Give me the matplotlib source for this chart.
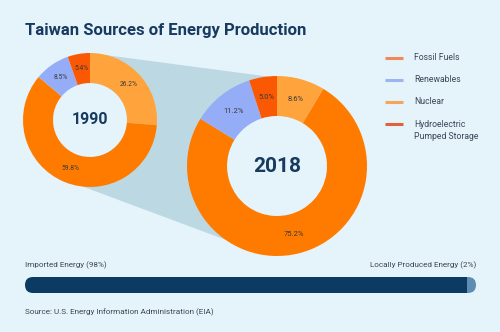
import numpy as np
import matplotlib
matplotlib.use("Agg")
import matplotlib.pyplot as plt
from matplotlib.patches import Polygon, Circle, FancyBboxPatch

# Energy mix (%), order: clockwise from 12 o'clock
sources = ["Nuclear", "Fossil Fuels", "Renewables", "Hydroelectric\nPumped Storage"]
mix_1990 = [26.2, 59.8, 8.5, 5.4]
mix_2018 = [8.6, 75.2, 11.2, 5.0]
years = ["1990", "2018"]

legend_order = ["Fossil Fuels", "Renewables", "Nuclear", "Hydroelectric\nPumped Storage"]

# import vs local share
share_labels = ["Imported Energy", "Locally Produced Energy"]
share_values = [98, 2]

bg = "#e5f3fb"
navy = "#173a5e"
txt = "#3b4756"
wedge_colors = {"Nuclear": "#ffa43c", "Fossil Fuels": "#ff7b00",
                "Renewables": "#94adf6", "Hydroelectric\nPumped Storage": "#fb5804"}
legend_colors = {"Fossil Fuels": "#f2875c", "Renewables": "#9db5ee",
                 "Nuclear": "#f4a65a", "Hydroelectric\nPumped Storage": "#e2603a"}

plt.rcParams["font.family"] = ["Roboto", "DejaVu Sans"]

W, H = 500, 332
fig = plt.figure(figsize=(W / 100, H / 100), dpi=100, facecolor=bg)
ax = fig.add_axes([0, 0, 1, 1])
ax.set_facecolor(bg)

def Y(y):
    return H - y

# donut geometry (pixels)
c_small, r_small, w_small = (90, Y(120)), 67, 30
c_big, r_big, w_big = (277, Y(166)), 90, 40

def on_circle(c, r, deg):
    a = np.radians(deg)
    return (c[0] + r * np.cos(a), c[1] + r * np.sin(a))

# zoom wedge between the two donuts
cone = Polygon([on_circle(c_small, r_small, 90), on_circle(c_big, r_big, 96),
                on_circle(c_big, r_big, 235), on_circle(c_small, r_small, 264)],
               closed=True, facecolor="#bcd9e3", edgecolor="none", zorder=1)
ax.add_patch(cone)

for c, r, w in [(c_small, r_small, w_small), (c_big, r_big, w_big)]:
    ax.add_patch(Circle(c, r - w, facecolor=bg, edgecolor="none", zorder=2))

def donut(values, c, r, w, fs):
    total = sum(values)
    ax.pie(values, colors=[wedge_colors[s] for s in sources], startangle=90,
           counterclock=False, radius=r, center=c, frame=True,
           wedgeprops=dict(width=w, edgecolor="none", zorder=3),
           autopct=lambda p: f"{p * total / 100:.1f}%",
           pctdistance=(r - w / 2) / r,
           textprops=dict(fontsize=fs, color="#3a3a3a", zorder=4))

donut(mix_1990, c_small, r_small, w_small, 4.8)
donut(mix_2018, c_big, r_big, w_big, 5.5)

ax.text(c_small[0], c_small[1], years[0], ha="center", va="center",
        fontsize=11.5, fontweight="bold", color=navy, zorder=5)
ax.text(c_big[0], c_big[1], years[1], ha="center", va="center",
        fontsize=15, fontweight="bold", color=navy, zorder=5)

# title
ax.text(25, Y(30), "Taiwan Sources of Energy Production", ha="left", va="center",
        fontsize=12, fontweight="bold", color=navy)

# legend
for i, name in enumerate(legend_order):
    y = Y(58 + i * 22)
    ax.plot([385, 403], [y, y], color=legend_colors[name], lw=2.2, solid_capstyle="butt")
    if "\n" in name:
        ax.text(414, y + 4, name, ha="left", va="top", fontsize=6.2, color=txt,
                linespacing=1.45)
    else:
        ax.text(414, y, name, ha="left", va="center", fontsize=6.2, color=txt)

# import / local bar
bar_x, bar_y, bar_w, bar_h = 25, Y(293), 451, 16
clip = FancyBboxPatch((bar_x, bar_y), bar_w, bar_h,
                      boxstyle=f"round,pad=0,rounding_size={bar_h / 2}",
                      facecolor="none", edgecolor="none", transform=ax.transData)
ax.add_patch(clip)
bax = fig.add_axes([bar_x / W, bar_y / H, bar_w / W, bar_h / H])
bax.set_xlim(0, sum(share_values))
bax.set_ylim(0, 1)
bax.axis("off")
b1 = bax.barh(0.5, share_values[0], height=1, color="#0b3a63")
b2 = bax.barh(0.5, share_values[1], left=share_values[0], height=1, color="#5e8db4")
for b in list(b1) + list(b2):
    b.set_clip_path(clip)

ax.text(25, Y(265), f"{share_labels[0]} ({share_values[0]}%)", ha="left", va="center",
        fontsize=5.9, color=txt)
ax.text(476, Y(265), f"{share_labels[1]} ({share_values[1]}%)", ha="right", va="center",
        fontsize=5.9, color=txt)
ax.text(25, Y(312), "Source: U.S. Energy Information Administration (EIA)", ha="left",
        va="center", fontsize=5.9, color=txt)

ax.set_xlim(0, W)
ax.set_ylim(0, H)
ax.set_aspect("auto")
ax.axis("off")

fig.savefig("out.png", dpi=100, facecolor=bg)
